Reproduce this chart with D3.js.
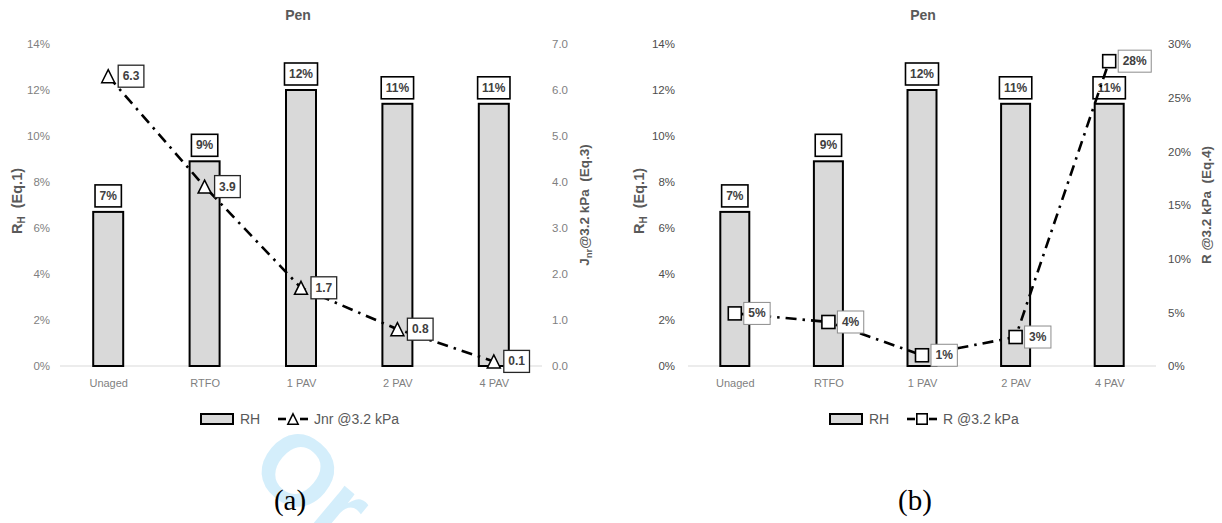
<!DOCTYPE html>
<html>
<head>
<meta charset="utf-8">
<script src="https://cdn.jsdelivr.net/npm/d3@7"></script>
<style>
  html, body { margin: 0; padding: 0; background: #ffffff; }
  svg { display: block; }
</style>
</head>
<body>
<svg id="chart" width="1222" height="523" font-family="Liberation Sans, Arial, sans-serif"></svg>
<script>
// Aging stages shared by both panels
const categories = ["Unaged", "RTFO", "1 PAV", "2 PAV", "4 PAV"];
// Recovery RH (Eq.1), fraction
const rhValues = [0.067, 0.089, 0.120, 0.114, 0.114];
// Non-recoverable compliance Jnr at 3.2 kPa (Eq.3)
const jnrValues = [6.3, 3.9, 1.7, 0.8, 0.1];
// Percent recovery R at 3.2 kPa (Eq.4), fraction
const rValues = [0.049, 0.041, 0.010, 0.027, 0.284];
// Axis ticks
const rhTicks = [0, 0.02, 0.04, 0.06, 0.08, 0.10, 0.12, 0.14];
const jnrTicks = [0, 1, 2, 3, 4, 5, 6, 7];
const rTicks = [0, 0.05, 0.10, 0.15, 0.20, 0.25, 0.30];

const svg = d3.select("#chart");
const pct0 = d3.format(".0%");
const fix1 = d3.format(".1f");

// faint watermark behind everything
svg.append("text")
  .attr("transform", "translate(246,472) rotate(40)")
  .attr("font-size", 100)
  .attr("font-weight", "bold")
  .attr("fill", "#d4eefb")
  .text("Or");

function drawPanel(cfg) {
  const g = svg.append("g");
  const x = d3.scalePoint().domain(categories).range([cfg.x0, cfg.x1]).padding(0.5);
  const yL = d3.scaleLinear().domain([0, 0.14]).range([cfg.yBottom, cfg.yTop]);
  const yR = d3.scaleLinear().domain(cfg.rightDomain).range([cfg.yBottom, cfg.yTop]);
  const barW = cfg.barWidth;

  // title
  g.append("text")
    .attr("x", cfg.titleX).attr("y", 20)
    .attr("text-anchor", "middle")
    .attr("font-size", 14).attr("font-weight", "bold")
    .attr("fill", "#595959")
    .text("Pen");

  // left axis
  const axL = g.append("g")
    .attr("transform", `translate(${cfg.x0},0)`)
    .call(d3.axisLeft(yL).tickValues(rhTicks).tickFormat(pct0).tickSize(0).tickPadding(cfg.padL));
  axL.select(".domain").remove();
  axL.selectAll("text").attr("font-size", 11.5).attr("fill", cfg.tickColor)
    .attr("font-family", "Liberation Sans, Arial, sans-serif");

  // right axis
  const axR = g.append("g")
    .attr("transform", `translate(${cfg.x1},0)`)
    .call(d3.axisRight(yR).tickValues(cfg.rightTicks).tickFormat(cfg.rightFormat).tickSize(0).tickPadding(cfg.padR));
  axR.select(".domain").remove();
  axR.selectAll("text").attr("font-size", 11.5).attr("fill", cfg.tickColor)
    .attr("font-family", "Liberation Sans, Arial, sans-serif");

  // category axis
  const axX = g.append("g")
    .attr("transform", `translate(0,${cfg.yBottom})`)
    .call(d3.axisBottom(x).tickSize(0).tickPadding(13));
  axX.select(".domain").remove();
  axX.selectAll("text").attr("font-size", 11).attr("fill", "#7f7f7f")
    .attr("font-family", "Liberation Sans, Arial, sans-serif");

  // left axis title: R_H (Eq.1)
  const tl = g.append("text")
    .attr("transform", `translate(${cfg.titleLX},${cfg.titleLY}) rotate(-90)`)
    .attr("text-anchor", "middle").attr("dominant-baseline", "central")
    .attr("font-size", 14.5).attr("font-weight", "bold").attr("fill", "#595959")
    .attr("xml:space", "preserve");
  tl.append("tspan").text("R");
  tl.append("tspan").attr("font-size", 10).attr("dy", 4).text("H");
  tl.append("tspan").attr("dy", -4).text("  (Eq.1)");

  // right axis title
  const tr = g.append("text")
    .attr("transform", `translate(${cfg.titleRX},${cfg.titleRY}) rotate(-90)`)
    .attr("text-anchor", "middle").attr("dominant-baseline", "central")
    .attr("font-size", 13.5).attr("font-weight", "bold").attr("fill", "#595959")
    .attr("xml:space", "preserve");
  cfg.rightTitle(tr);

  // baseline
  g.append("line")
    .attr("x1", cfg.x0).attr("x2", cfg.x1)
    .attr("y1", yL(0)).attr("y2", yL(0))
    .attr("stroke", "#d9d9d9").attr("stroke-width", 1);

  // bars
  g.selectAll("rect.bar").data(rhValues).join("rect")
    .attr("class", "bar")
    .attr("x", (d, i) => x(categories[i]) - barW / 2)
    .attr("y", d => yL(d))
    .attr("width", barW)
    .attr("height", d => yL(0) - yL(d))
    .attr("fill", "#d9d9d9").attr("stroke", "#000").attr("stroke-width", 2);

  // bar value labels
  rhValues.forEach((d, i) => {
    const cx = x(categories[i]);
    const bottom = yL(d) - 5;
    const lg = g.append("g");
    const t = lg.append("text")
      .attr("x", cx).attr("y", bottom - 11)
      .attr("text-anchor", "middle").attr("dominant-baseline", "central")
      .attr("font-size", 12).attr("font-weight", "bold").attr("fill", "#404040")
      .text(pct0(d));
    const w = t.node().getComputedTextLength() + 9;
    lg.insert("rect", "text")
      .attr("x", cx - w / 2).attr("y", bottom - 22)
      .attr("width", w).attr("height", 22)
      .attr("fill", "#fff").attr("stroke", "#000").attr("stroke-width", 1.6);
  });

  // secondary series line
  const vals = cfg.lineValues;
  const line = d3.line().x((d, i) => x(categories[i])).y(d => yR(d));
  g.append("path")
    .attr("d", line(vals))
    .attr("fill", "none").attr("stroke", "#000").attr("stroke-width", 2.6)
    .attr("stroke-dasharray", "11,6,2.5,6");

  // markers
  vals.forEach((d, i) => {
    cfg.marker(g, x(categories[i]), yR(d));
  });

  // line value labels
  vals.forEach((d, i) => {
    const px = x(categories[i]) + cfg.labelOffset;
    const py = yR(d);
    const lg = g.append("g");
    const t = lg.append("text")
      .attr("x", px + 4.5).attr("y", py)
      .attr("dominant-baseline", "central")
      .attr("font-size", 12).attr("font-weight", "bold").attr("fill", "#404040")
      .text(cfg.rightFormat(d));
    const w = t.node().getComputedTextLength() + 9;
    lg.insert("rect", "text")
      .attr("x", px).attr("y", py - 11)
      .attr("width", w).attr("height", 22)
      .attr("fill", "#fff").attr("stroke", cfg.lineLabelStroke).attr("stroke-width", cfg.lineLabelWidth);
  });

  // legend
  const ly = 419;
  g.append("rect")
    .attr("x", cfg.legX).attr("y", ly - 5).attr("width", 32).attr("height", 10)
    .attr("fill", "#d9d9d9").attr("stroke", "#000").attr("stroke-width", 2);
  g.append("text")
    .attr("x", cfg.legX + 39).attr("y", ly).attr("dominant-baseline", "central")
    .attr("font-size", 14).attr("fill", "#595959").text("RH");
  const lx = cfg.legX + 77;
  g.append("line").attr("x1", lx).attr("x2", lx + 8).attr("y1", ly).attr("y2", ly)
    .attr("stroke", "#000").attr("stroke-width", 2.6);
  g.append("line").attr("x1", lx + 22).attr("x2", lx + 30).attr("y1", ly).attr("y2", ly)
    .attr("stroke", "#000").attr("stroke-width", 2.6);
  cfg.marker(g, lx + 15, ly, 0.8);
  g.append("text")
    .attr("x", lx + 36).attr("y", ly).attr("dominant-baseline", "central")
    .attr("font-size", 14).attr("fill", "#595959").text(cfg.legendLabel);

  // panel caption
  g.append("text")
    .attr("x", cfg.captionX).attr("y", 510)
    .attr("text-anchor", "middle")
    .attr("font-family", "Liberation Serif, Times New Roman, serif")
    .attr("font-size", 29).attr("fill", "#000")
    .text(cfg.caption);
}

function triangle(g, cx, cy, s = 1) {
  const h = 13 * s, w = 13 * s;
  g.append("path")
    .attr("d", `M${cx},${cy - h / 2}L${cx + w / 2},${cy + h / 2}L${cx - w / 2},${cy + h / 2}Z`)
    .attr("fill", "#fff").attr("stroke", "#000").attr("stroke-width", 1.5);
}
function square(g, cx, cy, s = 1) {
  const a = 13 * s;
  g.append("rect")
    .attr("x", cx - a / 2).attr("y", cy - a / 2).attr("width", a).attr("height", a)
    .attr("fill", "#fff").attr("stroke", "#000").attr("stroke-width", 1.6);
}

// (a) RH with Jnr
drawPanel({
  x0: 60, x1: 542, yTop: 44, yBottom: 366, barWidth: 30,
  padL: 10, padR: 10, tickColor: "#7f7f7f",
  rightDomain: [0, 7], rightTicks: jnrTicks, rightFormat: fix1,
  titleX: 298, titleLX: 17, titleLY: 201, titleRX: 584, titleRY: 205,
  rightTitle: t => {
    t.append("tspan").text("J");
    t.append("tspan").attr("font-size", 9.5).attr("dy", 4).text("nr");
    t.append("tspan").attr("dy", -4).text("@3.2 kPa  (Eq.3)");
  },
  lineValues: jnrValues, marker: triangle, labelOffset: 10,
  lineLabelStroke: "#262626", lineLabelWidth: 1.3,
  legX: 201, legendLabel: "Jnr @3.2 kPa",
  captionX: 290, caption: "(a)"
});

// (b) RH with R
drawPanel({
  x0: 688, x1: 1156, yTop: 44, yBottom: 366, barWidth: 29,
  padL: 13, padR: 12, tickColor: "#4d4d4d",
  rightDomain: [0, 0.30], rightTicks: rTicks, rightFormat: pct0,
  titleX: 923, titleLX: 639, titleLY: 201, titleRX: 1206, titleRY: 205,
  rightTitle: t => {
    t.append("tspan").text("R @3.2 kPa  (Eq.4)");
  },
  lineValues: rValues, marker: square, labelOffset: 9,
  lineLabelStroke: "#8c8c8c", lineLabelWidth: 1,
  legX: 830, legendLabel: "R @3.2 kPa",
  captionX: 915, caption: "(b)"
});
</script>
</body>
</html>
